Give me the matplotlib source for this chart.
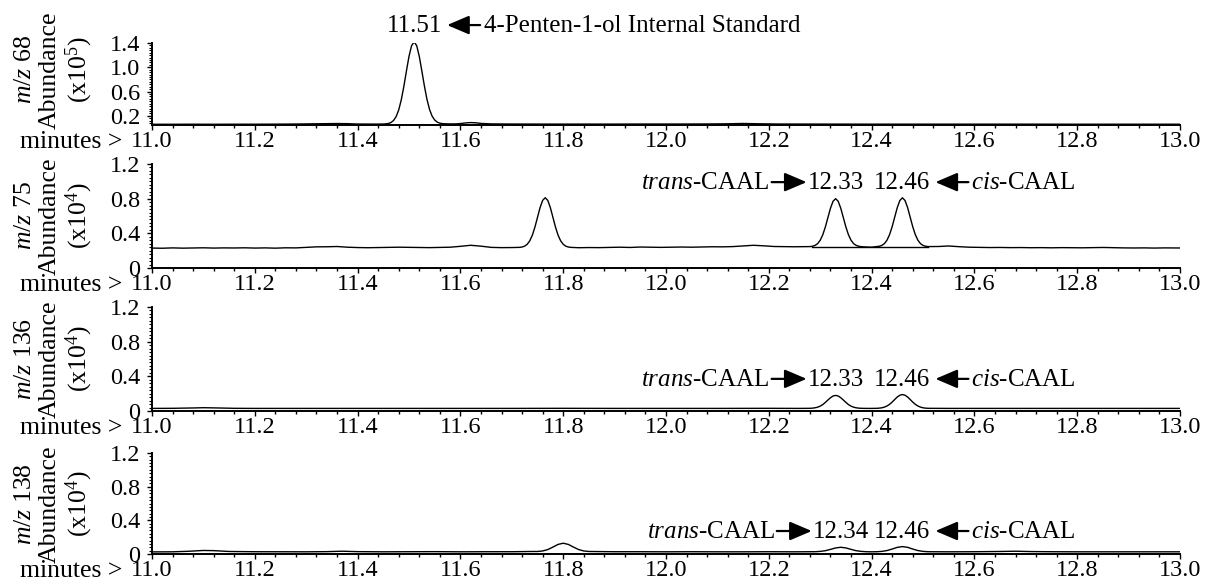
import matplotlib
matplotlib.use("Agg")
import matplotlib.pyplot as plt
from matplotlib.ticker import MultipleLocator
from matplotlib.transforms import offset_copy

plt.rcParams['font.family'] = ['Liberation Serif', 'DejaVu Serif']
plt.rcParams['mathtext.fontset'] = 'custom'
plt.rcParams['mathtext.rm'] = 'Liberation Serif'
plt.rcParams['mathtext.it'] = 'Liberation Serif:italic'

# ---- m/z 68 (x10^5) ----
t68 = [11.00, 11.04, 11.08, 11.12, 11.16, 11.20, 11.24, 11.28, 11.32, 11.36, 11.38, 11.40, 11.43, 11.44,
       11.450, 11.455, 11.460, 11.465, 11.470, 11.475, 11.480, 11.485, 11.490, 11.495, 11.500, 11.505, 11.510,
       11.515, 11.520, 11.525, 11.530, 11.535, 11.540, 11.545, 11.550, 11.555, 11.560, 11.565, 11.570, 11.580,
       11.59, 11.60, 11.61, 11.62, 11.63, 11.64, 11.66, 11.70, 11.76, 11.82, 11.90, 11.96, 12.02, 12.08,
       12.12, 12.15, 12.18, 12.22, 12.30, 12.40, 12.50, 12.60, 12.70, 12.80, 12.90, 13.00]
y68 = [0.062, 0.062, 0.063, 0.062, 0.063, 0.063, 0.064, 0.066, 0.070, 0.074, 0.072, 0.066, 0.065, 0.065,
       0.066, 0.069, 0.075, 0.091, 0.125, 0.189, 0.298, 0.465, 0.686, 0.939, 1.180, 1.355, 1.420,
       1.355, 1.180, 0.939, 0.690, 0.470, 0.305, 0.195, 0.132, 0.097, 0.080, 0.073, 0.070, 0.068,
       0.068, 0.074, 0.084, 0.090, 0.086, 0.076, 0.068, 0.066, 0.065, 0.065, 0.065, 0.066, 0.066, 0.067,
       0.070, 0.075, 0.070, 0.066, 0.065, 0.064, 0.064, 0.064, 0.064, 0.063, 0.063, 0.063]
rt68 = [11.51]

# ---- m/z 75 (x10^4) ----
t75 = [11.00, 11.02, 11.04, 11.06, 11.08, 11.10, 11.12, 11.14, 11.16, 11.18, 11.20, 11.22, 11.24, 11.26,
       11.28, 11.30, 11.32, 11.34, 11.36, 11.38, 11.40, 11.42, 11.44, 11.46, 11.48, 11.50, 11.52, 11.54,
       11.56, 11.58, 11.60, 11.62, 11.64, 11.66, 11.68, 11.70, 11.71,
       11.715, 11.720, 11.725, 11.730, 11.735, 11.740, 11.745, 11.750, 11.755, 11.760, 11.765,
       11.770, 11.775, 11.780, 11.785, 11.790, 11.795, 11.800, 11.805, 11.810, 11.815,
       11.83, 11.85, 11.87, 11.89, 11.91, 11.93, 11.95, 11.97, 11.99, 12.01, 12.03, 12.05, 12.07, 12.09,
       12.11, 12.13, 12.15, 12.17, 12.19, 12.21, 12.23, 12.25, 12.27,
       12.280, 12.285, 12.290, 12.295, 12.300, 12.305, 12.310, 12.315, 12.320, 12.325, 12.330,
       12.335, 12.340, 12.345, 12.350, 12.355, 12.360, 12.365, 12.370, 12.375, 12.380, 12.39, 12.40,
       12.410, 12.415, 12.420, 12.425, 12.430, 12.435, 12.440, 12.445, 12.450, 12.455, 12.460,
       12.465, 12.470, 12.475, 12.480, 12.485, 12.490, 12.495, 12.500, 12.505, 12.510,
       12.53, 12.55, 12.57, 12.59, 12.61, 12.63, 12.65, 12.67, 12.69, 12.71, 12.73, 12.75, 12.77, 12.79,
       12.81, 12.83, 12.85, 12.87, 12.89, 12.91, 12.93, 12.95, 12.97, 13.00]
y75 = [0.230, 0.228, 0.232, 0.229, 0.231, 0.233, 0.230, 0.232, 0.231, 0.233, 0.230, 0.232, 0.229, 0.233,
       0.232, 0.238, 0.244, 0.245, 0.248, 0.240, 0.236, 0.234, 0.236, 0.238, 0.240, 0.238, 0.236, 0.235,
       0.238, 0.240, 0.250, 0.262, 0.252, 0.238, 0.235, 0.236, 0.238,
       0.238, 0.242, 0.252, 0.274, 0.314, 0.379, 0.472, 0.585, 0.697, 0.780, 0.811,
       0.780, 0.697, 0.585, 0.472, 0.379, 0.314, 0.274, 0.252, 0.242, 0.238,
       0.234, 0.236, 0.235, 0.238, 0.240, 0.237, 0.242, 0.240, 0.238, 0.240, 0.242, 0.240, 0.243, 0.245,
       0.244, 0.247, 0.255, 0.262, 0.256, 0.248, 0.246, 0.245, 0.246,
       0.247, 0.251, 0.261, 0.281, 0.320, 0.383, 0.473, 0.582, 0.690, 0.770, 0.800,
       0.770, 0.690, 0.582, 0.473, 0.383, 0.320, 0.281, 0.261, 0.251, 0.246, 0.242, 0.240,
       0.247, 0.251, 0.261, 0.282, 0.321, 0.386, 0.477, 0.588, 0.698, 0.779, 0.810,
       0.779, 0.698, 0.588, 0.477, 0.386, 0.321, 0.282, 0.261, 0.251, 0.247,
       0.248, 0.254, 0.246, 0.240, 0.238, 0.236, 0.237, 0.235, 0.236, 0.234, 0.235, 0.233, 0.235, 0.234,
       0.233, 0.235, 0.237, 0.234, 0.232, 0.231, 0.232, 0.230, 0.232, 0.231]
rt75 = [12.33, 12.46]
# integration baseline under the CAAL pair
base_t75 = [12.285, 12.51]
base_y75 = [0.247, 0.247]

# ---- m/z 136 (x10^4) ----
t136 = [11.00, 11.04, 11.08, 11.10, 11.12, 11.16, 11.20, 11.30, 11.40, 11.50, 11.60, 11.70, 11.80, 11.90,
        12.00, 12.10, 12.20, 12.26, 12.280,
        12.285, 12.290, 12.295, 12.300, 12.305, 12.310, 12.315, 12.320, 12.325, 12.330,
        12.335, 12.340, 12.345, 12.350, 12.355, 12.360, 12.365, 12.370, 12.375, 12.380, 12.39, 12.40, 12.41,
        12.415, 12.420, 12.425, 12.430, 12.435, 12.440, 12.445, 12.450, 12.455, 12.460,
        12.465, 12.470, 12.475, 12.480, 12.485, 12.490, 12.495, 12.500, 12.505, 12.510,
        12.55, 12.60, 12.70, 12.80, 12.90, 13.00]
y136 = [0.030, 0.031, 0.035, 0.038, 0.036, 0.031, 0.030, 0.030, 0.030, 0.030, 0.030, 0.030, 0.031, 0.030,
        0.030, 0.030, 0.031, 0.030, 0.031,
        0.033, 0.037, 0.044, 0.056, 0.074, 0.099, 0.127, 0.153, 0.173, 0.180,
        0.173, 0.153, 0.127, 0.099, 0.074, 0.056, 0.044, 0.037, 0.033, 0.031, 0.030, 0.030, 0.031,
        0.033, 0.037, 0.045, 0.058, 0.077, 0.103, 0.133, 0.162, 0.182, 0.190,
        0.182, 0.162, 0.133, 0.103, 0.077, 0.058, 0.045, 0.037, 0.033, 0.031,
        0.030, 0.030, 0.030, 0.030, 0.030, 0.030]
rt136 = [12.33, 12.46]

# ---- m/z 138 (x10^4) ----
t138 = [11.00, 11.04, 11.07, 11.10, 11.12, 11.15, 11.20, 11.30, 11.34, 11.37, 11.40, 11.45, 11.50, 11.55,
        11.60, 11.65, 11.70, 11.74,
        11.75, 11.76, 11.77, 11.78, 11.79, 11.80, 11.81, 11.82, 11.83, 11.84, 11.85,
        11.90, 11.95, 12.00, 12.05, 12.10, 12.15, 12.20, 12.25, 12.28,
        12.29, 12.30, 12.31, 12.32, 12.33, 12.34, 12.35, 12.36, 12.37, 12.38, 12.39, 12.40,
        12.41, 12.42, 12.43, 12.44, 12.45, 12.46, 12.47, 12.48, 12.49, 12.50, 12.51,
        12.55, 12.60, 12.65, 12.68, 12.71, 12.75, 12.80, 12.90, 13.00]
y138 = [0.025, 0.026, 0.032, 0.042, 0.040, 0.030, 0.027, 0.026, 0.028, 0.033, 0.028, 0.026, 0.027, 0.028,
        0.026, 0.027, 0.027, 0.030,
        0.030, 0.036, 0.053, 0.082, 0.114, 0.128, 0.114, 0.082, 0.053, 0.036, 0.030,
        0.027, 0.027, 0.026, 0.027, 0.026, 0.026, 0.027, 0.026, 0.027,
        0.027, 0.031, 0.039, 0.055, 0.072, 0.080, 0.072, 0.055, 0.039, 0.031, 0.027, 0.026,
        0.027, 0.031, 0.041, 0.059, 0.079, 0.088, 0.079, 0.059, 0.041, 0.031, 0.027,
        0.026, 0.027, 0.030, 0.033, 0.029, 0.027, 0.026, 0.026, 0.026]
rt138 = [12.34, 12.46]

x_ticks = [11.0, 11.2, 11.4, 11.6, 11.8, 12.0, 12.2, 12.4, 12.6, 12.8, 13.0]
y_ticks_68 = [0.2, 0.6, 1.0, 1.4]
y_ticks = [0, 0.4, 0.8, 1.2]
y_ticklabels = ["0", "0.4", "0.8", "1.2"]

FS_TICK = 17.5
FS_TEXT = 18
FS_YLAB = 18.5
W, H = 1205, 587
XTICK_LEN = 5      # px
XTICK_PAD = 1      # pt

fig = plt.figure(figsize=(W / 100, H / 100), dpi=100)

# panel boxes in pixels: (top, bottom)
boxes = [(43, 125), (164, 268), (307, 411), (453, 554)]
left, right = 152, 1180
axes = []
for top, bot in boxes:
    ax = fig.add_axes([left / W, 1 - bot / H, (right - left) / W, (bot - top) / H])
    axes.append(ax)


def style_axis(ax, ylim, yticks, yticklabels):
    ax.set_xlim(11.0, 13.0)
    ax.set_ylim(*ylim)
    for s in ['top', 'right']:
        ax.spines[s].set_visible(False)
    for s in ['left', 'bottom']:
        ax.spines[s].set_linewidth(1.4)
    ax.set_xticks(x_ticks)
    ax.set_xticklabels([f"{v:.1f}" for v in x_ticks])
    ax.xaxis.set_minor_locator(MultipleLocator(0.04))
    ax.set_yticks(yticks)
    ax.set_yticklabels(yticklabels)
    ax.yaxis.set_minor_locator(MultipleLocator(0.04))
    ax.tick_params(axis='x', which='major', direction='out', length=XTICK_LEN * 0.72, width=1,
                   pad=XTICK_PAD, labelsize=FS_TICK)
    ax.tick_params(axis='x', which='minor', direction='out', length=3 * 0.72, width=1)
    ax.tick_params(axis='y', which='major', direction='out', length=5 * 0.72, width=1, pad=5,
                   labelsize=FS_TICK)
    ax.tick_params(axis='y', which='minor', direction='out', length=3 * 0.72, width=0.8)
    ax.patch.set_visible(False)


def arrow(ax, x, y, dx_tail, dx_tip, dy):
    tail = offset_copy(ax.transData, fig=fig, x=dx_tail, y=dy, units='dots')
    tip = offset_copy(ax.transData, fig=fig, x=dx_tip, y=dy, units='dots')
    ax.annotate('', xy=(x, y), xycoords=tip, xytext=(x, y), textcoords=tail,
                annotation_clip=False,
                arrowprops=dict(arrowstyle='-|>,head_length=0.75,head_width=0.32',
                                mutation_scale=18, lw=1.6, color='black',
                                shrinkA=0, shrinkB=0))


def caal_labels(ax, rts, y):
    t_rt, c_rt = rts
    ax.annotate(f"{t_rt:.2f}", xy=(t_rt, y), ha='center', va='baseline',
                fontsize=FS_TEXT, annotation_clip=False)
    arrow(ax, t_rt, y, -64, -29, 7)
    ax.annotate(r"$\mathit{trans}$-CAAL", xy=(t_rt, y), xytext=(-66, 0),
                textcoords='offset pixels', ha='right', va='baseline',
                fontsize=FS_TEXT, annotation_clip=False)
    ax.annotate(f"{c_rt:.2f}", xy=(c_rt, y), ha='center', va='baseline',
                fontsize=FS_TEXT, annotation_clip=False)
    arrow(ax, c_rt, y, 66, 33, 7)
    ax.annotate(r"$\mathit{cis}$-CAAL", xy=(c_rt, y), xytext=(69, 0),
                textcoords='offset pixels', ha='left', va='baseline',
                fontsize=FS_TEXT, annotation_clip=False)


# traces
axes[0].plot(t68, y68, color='black', lw=1.0)
axes[1].plot(t75, y75, color='black', lw=1.0)
axes[1].plot(base_t75, base_y75, color='black', lw=1.0)
axes[2].plot(t136, y136, color='black', lw=1.0)
axes[3].plot(t138, y138, color='black', lw=1.0)

style_axis(axes[0], (0.05, 1.4), y_ticks_68, [f"{v:.1f}" for v in y_ticks_68])
for ax in axes[1:]:
    style_axis(ax, (0, 1.2), y_ticks, y_ticklabels)

# internal standard label
ax = axes[0]
ax.annotate(f"{rt68[0]:.2f}", xy=(rt68[0], 1.58), ha='center', va='baseline',
            fontsize=FS_TEXT, annotation_clip=False)
arrow(ax, rt68[0], 1.58, 66, 33, 7)
ax.annotate("4-Penten-1-ol Internal Standard", xy=(rt68[0], 1.58), xytext=(70, 0),
            textcoords='offset pixels', ha='left', va='baseline',
            fontsize=FS_TEXT, annotation_clip=False)

caal_labels(axes[1], rt75, 0.91)
caal_labels(axes[2], rt136, 0.29)
caal_labels(axes[3], rt138, 0.19)

# y-axis captions and "minutes >" labels
ions = ["68", "75", "136", "138"]
powers = ["5", "4", "4", "4"]
centers = [70, 216, 359, 504]
label_top = XTICK_LEN + XTICK_PAD * 100 / 72
for (top, bot), ion, pw, cy in zip(boxes, ions, powers, centers):
    yc = 1 - cy / H
    fig.text(25 / W, yc, r"$\mathit{m/z}$ " + ion, rotation=90, ha='center', va='center', fontsize=FS_YLAB)
    fig.text(50 / W, yc, "Abundance", rotation=90, ha='center', va='center', fontsize=FS_YLAB)
    fig.text(79 / W, yc, r"(x10$^{%s}$)" % pw, rotation=90, ha='center', va='center', fontsize=FS_YLAB)
    fig.text(122 / W, 1 - (bot + label_top) / H, "minutes >", ha='right', va='top', fontsize=FS_YLAB)

fig.savefig("out.png", dpi=100)
